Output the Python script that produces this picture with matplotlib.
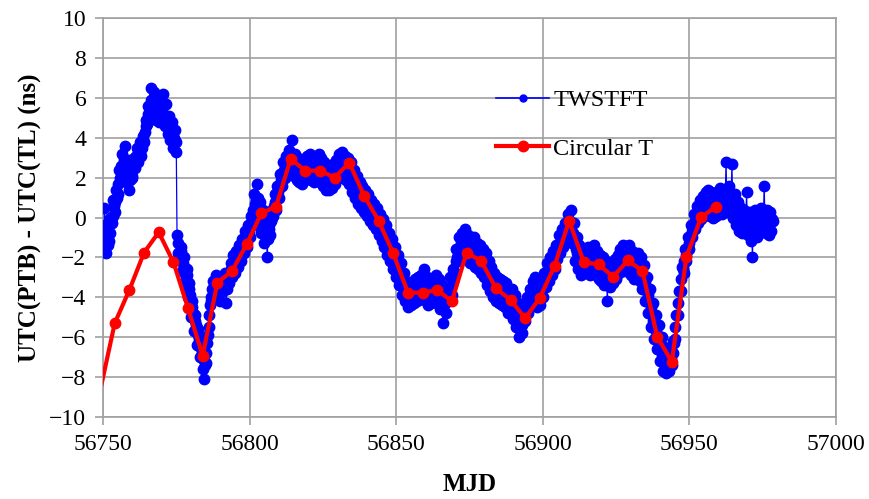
import numpy as np
import matplotlib
matplotlib.use("Agg")
import matplotlib.pyplot as plt

plt.rcParams['font.family'] = ['Liberation Serif', 'DejaVu Serif']

# TWSTFT: UTC(PTB) - UTC(TL) in ns.
# Samples at whole and half days, starting MJD 56750.0
twstft_start = 56750.0
twstft_ns = [
    # 56750 - 56759
    -0.6, 0.5, -1.8, -0.7, -1.2, 0.0, -0.3, 0.9, 0.3, 1.4,
    1.2, 2.4, 2.0, 3.2, 2.3, 3.6, 1.8, 2.9, 1.4, 2.5,
    # 56760 - 56769
    2.0, 3.0, 2.5, 3.5, 2.8, 3.8, 3.1, 4.1, 3.8, 4.9,
    4.7, 5.6, 5.3, 6.5, 5.4, 6.3, 4.9, 6.0, 4.8, 6.1,
    # 56770 - 56779
    5.0, 6.2, 4.6, 5.7, 4.2, 5.1, 3.9, 4.8, 3.5, 4.4,
    3.3, -1.3, -2.0, -1.5, -2.7, -2.0, -3.3, -2.6, -4.0, -3.3,
    # 56780 - 56789
    -5.0, -4.2, -5.7, -4.9, -6.4, -5.6, -7.0, -6.1, -7.6, -8.1,
    -7.3, -6.3, -5.5, -4.4, -4.0, -3.2, -3.9, -2.9, -3.8, -3.0,
    # 56790 - 56799
    -4.2, -3.1, -3.7, -2.8, -4.3, -3.0, -3.3, -2.3, -3.0, -1.9,
    -2.8, -1.7, -2.5, -1.4, -2.2, -1.1, -1.8, -0.7, -1.5, -0.4,
    # 56800 - 56809
    -1.0, 0.1, -0.3, 1.2, 0.3, 1.7, -0.4, 0.8, -0.8, 0.4,
    -1.3, 0.0, -2.0, -0.4, -0.9, 0.4, 0.1, 1.2, 0.4, 1.6,
    # 56810 - 56819
    1.0, 2.2, 1.6, 2.8, 2.0, 3.1, 2.3, 3.4, 2.6, 3.9,
    2.1, 3.2, 1.9, 3.0, 1.8, 2.9, 1.7, 2.8, 1.9, 3.1,
    # 56820 - 56829
    2.0, 3.2, 1.9, 3.0, 1.8, 2.9, 2.0, 3.2, 1.8, 3.0,
    1.6, 2.8, 1.4, 2.5, 1.4, 2.4, 1.5, 2.7, 1.7, 2.9,
    # 56830 - 56839
    2.0, 3.2, 2.2, 3.3, 2.0, 3.1, 1.9, 3.0, 1.7, 2.8,
    1.3, 2.4, 1.0, 2.1, 0.7, 1.8, 0.5, 1.6, 0.3, 1.4,
    # 56840 - 56849
    0.1, 1.2, -0.2, 0.9, -0.4, 0.7, -0.6, 0.5, -0.9, 0.2,
    -1.2, -0.1, -1.5, -0.4, -1.9, -0.8, -2.2, -1.1, -2.6, -1.5,
    # 56850 - 56859
    -3.0, -1.9, -3.4, -2.3, -3.9, -2.8, -4.2, -3.2, -4.5, -3.4,
    -4.4, -3.3, -4.3, -3.1, -4.2, -3.0, -4.1, -2.9, -3.9, -2.6,
    # 56860 - 56869
    -4.2, -3.0, -4.4, -3.2, -4.3, -3.1, -4.1, -2.9, -4.3, -3.1,
    -4.6, -3.4, -5.3, -3.7, -4.8, -3.6, -4.2, -3.0, -3.9, -2.6,
    # 56870 - 56879
    -2.8, -1.6, -2.2, -1.0, -1.9, -0.8, -1.8, -0.6, -2.1, -0.9,
    -2.3, -1.1, -2.2, -1.0, -2.5, -1.3, -2.6, -1.4, -2.8, -1.6,
    # 56880 - 56889
    -3.0, -1.8, -3.4, -2.2, -3.7, -2.5, -4.0, -2.8, -4.2, -3.0,
    -4.3, -3.1, -4.4, -3.2, -4.5, -3.3, -4.8, -3.6, -4.8, -3.6,
    # 56890 - 56899
    -5.1, -3.9, -5.5, -4.3, -6.0, -4.7, -5.8, -4.5, -5.2, -4.0,
    -4.8, -3.6, -4.4, -3.2, -4.2, -3.0, -4.5, -3.3, -4.4, -3.2,
    # 56900 - 56909
    -4.0, -2.8, -3.5, -2.3, -3.2, -2.0, -2.9, -1.7, -2.6, -1.4,
    -2.1, -0.9, -1.8, -0.6, -1.5, -0.3, -1.0, 0.2, -0.6, 0.4,
    # 56910 - 56919
    -1.3, -0.3, -2.2, -1.0, -2.6, -1.4, -2.9, -1.7, -2.8, -1.6,
    -2.7, -1.5, -2.9, -1.7, -2.6, -1.4, -2.9, -1.7, -3.1, -1.9,
    # 56920 - 56929
    -3.2, -2.0, -3.4, -2.2, -4.2, -2.4, -3.5, -2.3, -3.3, -2.1,
    -3.1, -1.9, -2.8, -1.6, -2.6, -1.4, -2.7, -1.5, -2.6, -1.4,
    # 56930 - 56939
    -2.9, -1.7, -3.1, -1.9, -3.0, -1.8, -3.2, -2.0, -3.6, -2.4,
    -4.2, -3.0, -4.8, -3.6, -5.5, -4.3, -6.1, -4.9, -6.6, -5.4,
    # 56940 - 56949
    -7.2, -6.0, -7.7, -6.5, -7.8, -6.8, -7.7, -6.7, -7.4, -6.2,
    -6.1, -4.9, -4.9, -3.7, -3.7, -2.5, -2.8, -1.6, -2.2, -1.0,
    # 56950 - 56959
    -1.6, -0.4, -1.0, 0.2, -0.6, 0.6, -0.3, 0.9, -0.1, 1.1,
    0.1, 1.3, 0.2, 1.4, 0.1, 1.3, 0.0, 1.2, 0.1, 1.3,
    # 56960 - 56969
    0.3, 1.5, 0.2, 1.4, 0.5, 2.8, 0.3, 1.6, 0.4, 2.7,
    0.0, 1.2, -0.4, 0.8, -0.7, 0.5, -0.8, 0.4, -0.7, 1.3,
    # 56970 - 56978.5
    -0.9, 0.3, -1.2, -2.0, -0.8, 0.4, -1.0, 0.2, -0.7, 0.5,
    -0.5, 1.6, -0.8, 0.4, -0.9, 0.3, -0.7, -0.2,
]

# Samples at quarter days (d + 0.25, d + 0.75), starting MJD 56750.25
twstft_q_start = 56750.25
twstft_q_ns = [
    # 56750 - 56759
    -1.3, -0.4, -1.0, -1.4, -0.8, -0.2, 0.1, 0.6, 0.8, 1.0,
    1.7, 2.0, 2.6, 2.4, 2.9, 2.6, 2.2, 2.5, 1.9, 2.1,
    # 56760 - 56769
    2.6, 2.8, 3.1, 2.9, 3.4, 3.2, 3.5, 3.9, 4.3, 4.6,
    5.2, 5.0, 5.9, 5.6, 5.8, 6.1, 5.3, 5.6, 5.5, 5.2,
    # 56770 - 56779
    5.4, 5.7, 5.1, 4.9, 4.6, 4.8, 4.3, 4.4, 4.0, 3.8,
    -0.9, -1.8, -1.9, -1.7, -2.3, -2.5, -3.0, -2.9, -3.6, -3.9,
    # 56780 - 56789
    -4.5, -4.8, -5.2, -5.4, -5.9, -6.1, -6.5, -6.8, -7.1, -7.4,
    -6.8, -5.9, -4.9, -4.2, -3.6, -3.5, -3.4, -3.3, -3.5, -3.4,
    # 56790 - 56799
    -3.7, -3.5, -3.3, -3.4, -3.6, -3.2, -2.8, -2.6, -2.5, -2.3,
    -2.2, -2.1, -2.0, -1.8, -1.7, -1.5, -1.2, -1.1, -0.9, -0.7,
    # 56800 - 56809
    -0.5, -0.1, 0.4, 0.7, 0.9, 1.0, 0.3, 0.1, -0.2, -0.3,
    -0.6, -0.9, -1.1, -0.6, -0.2, 0.0, 0.6, 0.8, 1.0, 1.3,
    # 56810 - 56819
    1.6, 1.9, 2.2, 2.4, 2.6, 2.5, 2.8, 2.9, 3.1, 3.0,
    2.6, 2.7, 2.4, 2.5, 2.3, 2.4, 2.2, 2.3, 2.5, 2.4,
    # 56820 - 56829
    2.6, 2.5, 2.4, 2.6, 2.3, 2.4, 2.7, 2.5, 2.4, 2.3,
    2.2, 2.1, 1.9, 2.0, 1.9, 1.8, 2.1, 2.0, 2.3, 2.4,
    # 56830 - 56839
    2.6, 2.7, 2.8, 2.7, 2.5, 2.6, 2.4, 2.5, 2.2, 2.1,
    1.8, 1.9, 1.5, 1.6, 1.2, 1.3, 1.0, 1.1, 0.8, 0.9,
    # 56840 - 56849
    0.6, 0.7, 0.3, 0.4, 0.1, 0.2, -0.1, 0.0, -0.4, -0.3,
    -0.6, -0.7, -1.0, -0.9, -1.4, -1.3, -1.7, -1.6, -2.1, -2.0,
    # 56850 - 56859
    -2.5, -2.4, -2.9, -2.8, -3.4, -3.3, -3.7, -3.8, -4.0, -3.9,
    -3.8, -3.9, -3.7, -3.6, -3.6, -3.5, -3.5, -3.4, -3.3, -3.2,
    # 56860 - 56869
    -3.6, -3.7, -3.8, -3.9, -3.7, -3.6, -3.5, -3.4, -3.7, -3.8,
    -4.0, -4.1, -4.4, -4.3, -4.2, -4.0, -3.6, -3.5, -3.2, -2.9,
    # 56870 - 56879
    -2.2, -2.0, -1.6, -1.5, -1.3, -1.4, -1.2, -1.3, -1.5, -1.6,
    -1.7, -1.8, -1.6, -1.7, -1.9, -2.0, -2.0, -2.1, -2.2, -2.3,
    # 56880 - 56889
    -2.4, -2.6, -2.8, -2.9, -3.1, -3.2, -3.4, -3.5, -3.6, -3.7,
    -3.7, -3.8, -3.8, -3.9, -3.9, -4.0, -4.2, -4.3, -4.2, -4.4,
    # 56890 - 56899
    -4.5, -4.7, -4.9, -5.1, -5.3, -5.4, -5.1, -4.9, -4.6, -4.4,
    -4.2, -4.0, -3.8, -3.7, -3.6, -3.8, -3.9, -4.0, -3.8, -3.6,
    # 56900 - 56909
    -3.4, -3.2, -2.9, -2.7, -2.6, -2.4, -2.3, -2.1, -2.0, -1.8,
    -1.5, -1.3, -1.2, -1.0, -0.9, -0.7, -0.4, -0.3, -0.2, -0.4,
    # 56910 - 56919
    -0.8, -1.2, -1.6, -1.8, -2.0, -2.1, -2.3, -2.2, -2.2, -2.1,
    -2.1, -2.2, -2.3, -2.2, -2.0, -2.1, -2.3, -2.4, -2.5, -2.6,
    # 56920 - 56929
    -2.6, -2.7, -2.8, -2.9, -3.0, -3.1, -2.9, -2.8, -2.7, -2.6,
    -2.5, -2.4, -2.2, -2.1, -2.0, -2.1, -2.1, -2.0, -2.0, -2.1,
    # 56930 - 56939
    -2.3, -2.4, -2.5, -2.4, -2.4, -2.5, -2.6, -2.8, -3.0, -3.3,
    -3.6, -3.9, -4.2, -4.5, -4.9, -5.2, -5.5, -5.7, -6.0, -6.3,
    # 56940 - 56949
    -6.6, -6.9, -7.1, -7.2, -7.3, -7.2, -7.2, -7.1, -6.8, -6.3,
    -5.5, -4.9, -4.3, -3.7, -3.1, -2.6, -2.2, -1.9, -1.6, -1.3,
    # 56950 - 56959
    -1.0, -0.7, -0.4, -0.2, 0.0, 0.2, 0.3, 0.4, 0.5, 0.6,
    0.7, 0.8, 0.8, 0.7, 0.7, 0.6, 0.6, 0.7, 0.7, 0.8,
    # 56960 - 56969
    0.9, 0.8, 0.8, 0.9, 1.2, 1.0, 0.9, 1.0, 1.0, 0.8,
    0.6, 0.4, 0.2, 0.1, -0.1, -0.2, -0.2, -0.1, -0.1, -0.3,
    # 56970 - 56978.25
    -0.3, -0.5, -0.6, -0.4, -0.2, -0.3, -0.4, -0.3, -0.1, 0.0,
    0.1, 0.0, -0.2, -0.3, -0.3, -0.2, -0.1,
]

# Circular T values, every 5 days
circt_mjd = list(range(56749, 56960, 5))
circt_ns = [
    -8.7, -5.3, -3.63, -1.76, -0.74, -2.23, -4.55, -6.93, -3.27, -2.68,
    -1.34, 0.21, 0.55, 2.93, 2.35, 2.35, 2.0, 2.75, 1.1, -0.16,
    -1.8, -3.77, -3.77, -3.63, -4.2, -1.76, -2.18, -3.55, -4.13, -5.05,
    -4.02, -2.43, -0.16, -2.25, -2.34, -2.97, -2.15, -2.68, -5.97, -7.23,
    -1.96, 0.01, 0.54,
]

x_ticks = [56750, 56800, 56850, 56900, 56950, 57000]
y_ticks = list(range(-10, 11, 2))

# merge the two TWSTFT sample sets into one time-ordered series
t_half = twstft_start + 0.5 * np.arange(len(twstft_ns))
t_quarter = twstft_q_start + 0.5 * np.arange(len(twstft_q_ns))
tw_t = np.concatenate([t_half, t_quarter])
tw_v = np.concatenate([twstft_ns, twstft_q_ns])
order = np.argsort(tw_t)
tw_t, tw_v = tw_t[order], tw_v[order]

fig = plt.figure(figsize=(8.69, 4.99), dpi=100)
ax = fig.add_axes([103 / 869, 1 - 417 / 499, 733 / 869, 399 / 499])

ax.plot(tw_t, tw_v, '-o', color='#0000ff', lw=0.9, ms=7.5,
        label='TWSTFT', zorder=3)
# the first Circular T point lies just left of the axis; only its line shows
ax.plot(circt_mjd, circt_ns, '-o', color='#ff0000', lw=3, ms=7.5,
        markevery=slice(1, None), label='Circular T', zorder=4)

ax.set_xlim(56750, 57000)
ax.set_ylim(-10, 10)
ax.set_xticks(x_ticks)
ax.set_yticks(y_ticks)
ax.grid(True, color='#a0a0a0', lw=1.2)
ax.set_axisbelow(True)
for s in ax.spines.values():
    s.set_color('#a0a0a0')
    s.set_linewidth(1.2)
ax.tick_params(axis='both', direction='out', length=6, width=1.2,
               color='#a0a0a0', labelsize=17, pad=6)

ax.set_xlabel('MJD', fontsize=18, fontweight='bold', labelpad=13)
ax.set_ylabel('UTC(PTB) - UTC(TL) (ns)', fontsize=18, fontweight='bold',
              labelpad=5)

leg = ax.legend(loc='upper left', bbox_to_anchor=(496 / 869, 1 - 89 / 499),
                bbox_transform=fig.transFigure, frameon=False, fontsize=17.5,
                handlelength=2.2, handletextpad=0.15, labelspacing=1.1,
                borderpad=0, borderaxespad=0)
leg.get_lines()[0].set_markersize(5)
leg.get_lines()[0].set_linewidth(1.2)

fig.savefig('out.png', dpi=100)
